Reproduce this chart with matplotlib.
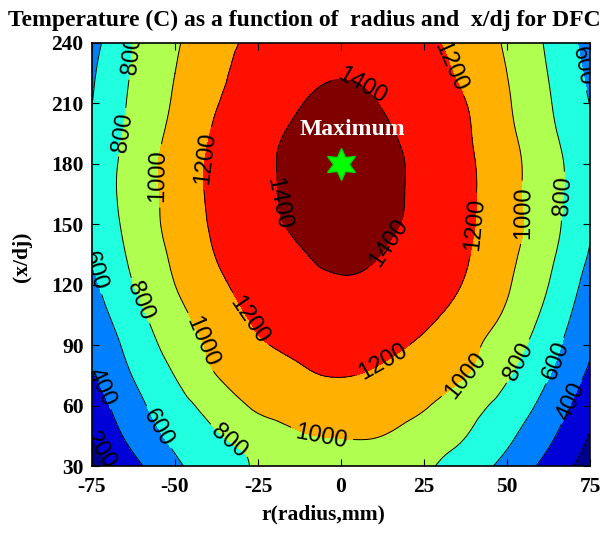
import numpy as np
import matplotlib
matplotlib.use("Agg")
import matplotlib.pyplot as plt
import matplotlib.tri as mtri

plt.rcParams["axes.unicode_minus"] = False

# grid nodes: radius (mm) and axial distance x/dj
RADIUS = [-75, -62.5, -50, -37.5, -25, -12.5, 0, 12.5, 25, 37.5, 50, 62.5, 75]
X_DJ = [30, 45, 60, 75, 90, 105, 120, 135, 150, 165, 180, 195, 210, 225, 240]

# temperature (C), one row per x/dj station, columns follow RADIUS
TEMP = [
    [80, 344, 567, 705, 823, 892, 915, 894, 830, 702, 543, 336, 110],
    [200, 463, 647, 784, 885, 981, 1010, 1000, 909, 804, 642, 440, 190],
    [290, 538, 720, 886, 1031, 1098, 1120, 1094, 1017, 885, 727, 527, 270],
    [383, 609, 805, 1000, 1084, 1167, 1205, 1165, 1084, 1003, 820, 608, 365],
    [445, 669, 879, 1046, 1172, 1251, 1275, 1248, 1164, 1053, 896, 677, 425],
    [505, 733, 941, 1101, 1233, 1306, 1330, 1309, 1245, 1125, 972, 742, 480],
    [560, 800, 1000, 1159, 1286, 1360, 1385, 1363, 1298, 1187, 1020, 800, 525],
    [615, 840, 1036, 1207, 1310, 1389, 1425, 1397, 1315, 1215, 1052, 842, 585],
    [660, 867, 1067, 1230, 1339, 1428, 1455, 1431, 1344, 1232, 1076, 873, 620],
    [690, 878, 1075, 1242, 1352, 1445, 1475, 1445, 1354, 1240, 1068, 873, 665],
    [680, 877, 1080, 1240, 1353, 1448, 1480, 1448, 1352, 1235, 1071, 871, 680],
    [640, 856, 1052, 1223, 1336, 1432, 1465, 1428, 1330, 1222, 1046, 842, 640],
    [598, 837, 1021, 1193, 1290, 1392, 1435, 1392, 1294, 1204, 1022, 817, 596],
    [575, 819, 1000, 1158, 1285, 1355, 1390, 1355, 1285, 1158, 1000, 795, 560],
    [530, 802, 979, 1128, 1251, 1318, 1340, 1316, 1245, 1122, 976, 770, 525],
]

FILL_LEVELS = [0, 200, 400, 600, 800, 1000, 1200, 1400, 1600]
LINE_LEVELS = [200, 400, 600, 800, 1000, 1200, 1400]
BAND_COLORS = ["#00008c", "#0000d8", "#0080ff", "#20ffdf",
               "#b0ff50", "#ffb000", "#ff1000", "#800000"]

X_TICKS = [-75, -50, -25, 0, 25, 50, 75]
Y_TICKS = [30, 60, 90, 120, 150, 180, 210, 240]

MAX_R, MAX_X = 0, 180

LABEL_SPOTS = [
    (-63.5, 234), (-67, 196), (-56, 174), (-42, 183), (-20, 160),
    (6, 218), (34, 229), (71.5, 228), (40, 150), (55, 156),
    (66.6, 164), (15, 140), (-74, 127), (-62, 111), (-43, 91),
    (-29, 101), (-72.6, 69), (-71, 39), (-55, 49), (-36, 38),
    (-6, 43), (13, 81), (37, 76), (54.5, 81), (65, 82), (70.5, 61),
]

SERIF = ["Liberation Serif", "DejaVu Serif"]
SANS = ["Liberation Sans", "DejaVu Sans"]

rr, xx = np.meshgrid(RADIUS, X_DJ)
tt = np.array(TEMP, dtype=float)

triang = mtri.Triangulation(rr.ravel(), xx.ravel())
refiner = mtri.UniformTriRefiner(triang)
tri_fine, t_fine = refiner.refine_field(tt.ravel(), subdiv=3)

fig = plt.figure(figsize=(6.09, 5.33), dpi=100)
ax = fig.add_axes([92 / 609, 1 - 466 / 533, 498 / 609, 423 / 533])

ax.tricontourf(tri_fine, t_fine, levels=FILL_LEVELS, colors=BAND_COLORS)
lines = ax.tricontour(tri_fine, t_fine, levels=LINE_LEVELS,
                      colors="black", linewidths=0.7)
labels = ax.clabel(lines, manual=LABEL_SPOTS, fmt="%d", fontsize=17,
                   inline=True, inline_spacing=2)
for lab in labels:
    lab.set_family(SANS)

ax.plot(MAX_R, MAX_X, marker=(6, 1, 0), markersize=23, color="#00ff00",
        markeredgecolor="#00dd00", linestyle="none", zorder=5)
ax.text(MAX_R + 3.3, MAX_X + 17, "Maximum", color="white", fontsize=17,
        fontweight="bold", family=SERIF, ha="center", va="center", zorder=6)

ax.set_xlim(-75, 75)
ax.set_ylim(30, 240)
ax.set_xticks(X_TICKS)
ax.set_yticks(Y_TICKS)
ax.tick_params(direction="in", length=5, width=0.8, top=True, right=True,
               labelsize=15.5)
ax.tick_params(axis="x", pad=8)
ax.tick_params(axis="y", pad=6)
for lab in ax.get_xticklabels() + ax.get_yticklabels():
    lab.set_family(SERIF)
    lab.set_fontweight("bold")
for spine in ax.spines.values():
    spine.set_linewidth(1.2)

ax.set_xlabel("r(radius,mm)", family=SERIF, fontweight="bold", fontsize=15.5)
ax.xaxis.set_label_coords(0.464, -0.09)
ax.set_ylabel("(x/dj)", family=SERIF, fontweight="bold", fontsize=15.5)
ax.yaxis.set_label_coords(-0.12, 0.494)

fig.text(304 / 609, 1 - 20 / 533,
         "Temperature (C) as a function of  radius and  x/dj for DFC",
         family=SERIF, fontweight="bold", fontsize=17, ha="center", va="center")

fig.savefig("out.png", dpi=100)
